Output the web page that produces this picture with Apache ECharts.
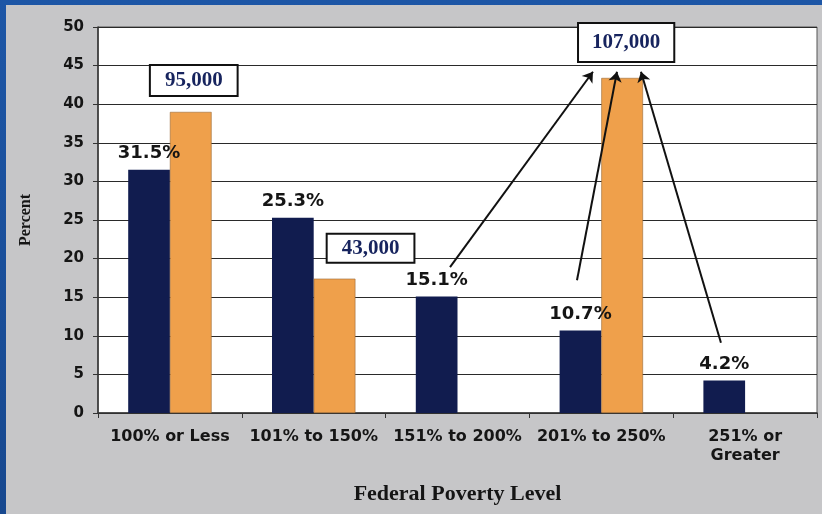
<!DOCTYPE html>
<html>
<head>
<meta charset="utf-8">
<script src="https://cdn.jsdelivr.net/npm/echarts@6/dist/echarts.min.js"></script>
<style>
  html, body { margin: 0; padding: 0; }
  body {
    width: 822px; height: 514px; overflow: hidden; position: relative;
    background: linear-gradient(180deg, #1d56a6 0%, #17488f 100%);
  }
  #chart {
    position: absolute; left: 6px; top: 5px; width: 816px; height: 509px;
    background: #c6c6c8;
  }
</style>
</head>
<body>
<div id="chart"></div>
<script>
// Federal poverty level bands
const categories = ['100% or Less', '101% to 150%', '151% to 200%', '201% to 250%', '251% or\nGreater'];
// Share of population (percent) per band
const percentValues = [31.5, 25.3, 15.1, 10.7, 4.2];
// Share of uninsured/eligible group (percent) per band
const groupValues = [39.0, 17.4, null, 43.4, null];
// Head counts shown in the boxed callouts above the orange bars
const calloutCounts = ['95,000', '43,000', null, '107,000', null];
// Pointer arrows [x, y] in band units (0-5) and percent: tail then head
const pointerTails = [[2.448, 18.9], [3.331, 17.2], [4.332, 9.1]];
const pointerHeads = [[3.442, 44.2], [3.609, 44.2], [3.776, 44.2]];
// Value axis ticks
const yMin = 0, yMax = 50, yStep = 5;

const SANS = 'DejaVu Sans';
const SERIF = 'Liberation Serif';

// per-callout box tweaks
const calloutStyle = [
  { offset: [3, 0], padding: [4, 14] },
  { offset: [36, 0], padding: [3, 14] },
  null,
  { offset: [4, 0], padding: [8, 13] },
  null
];

const groupData = groupValues.map((v, i) => {
  if (v == null) return null;
  const st = calloutStyle[i] || { offset: [0, 0], padding: [4, 14] };
  return {
    value: v,
    label: {
      show: true,
      position: 'top',
      distance: 17,
      offset: st.offset,
      padding: st.padding,
      formatter: calloutCounts[i],
      fontFamily: SERIF,
      fontWeight: 'bold',
      fontSize: 21,
      color: '#17245e',
      backgroundColor: '#ffffff',
      borderColor: '#111111',
      borderWidth: 2
    }
  };
});

const chart = echarts.init(document.getElementById('chart'), null, { renderer: 'canvas' });

chart.setOption({
  animation: false,
  backgroundColor: '#c6c6c8',
  grid: {
    left: 92, right: 5, top: 22, bottom: 101,
    show: true, backgroundColor: '#ffffff', borderColor: '#555555', borderWidth: 1
  },
  xAxis: [
    {
      type: 'category',
      data: categories,
      axisLine: { show: true, lineStyle: { color: '#333333', width: 1.5 } },
      axisTick: { show: true, length: 5, lineStyle: { color: '#333333' } },
      axisLabel: {
        interval: 0, margin: 14,
        fontFamily: SANS, fontWeight: 'bold', fontSize: 16, lineHeight: 19, color: '#151515'
      },
      name: 'Federal Poverty Level',
      nameLocation: 'middle',
      nameGap: 70,
      nameTextStyle: { fontFamily: SERIF, fontWeight: 'bold', fontSize: 22, color: '#151515' }
    },
    {
      type: 'value', min: 0, max: 5, show: false
    }
  ],
  yAxis: {
    type: 'value',
    min: yMin, max: yMax, interval: yStep,
    axisLine: { show: true, lineStyle: { color: '#333333', width: 1.5 } },
    axisTick: { show: true, length: 5, lineStyle: { color: '#333333' } },
    axisLabel: {
      margin: 14, fontFamily: SANS, fontWeight: 'bold', fontSize: 15, color: '#151515'
    },
    splitLine: { show: true, lineStyle: { color: '#2a2a2a', width: 1.2 } },
    name: 'Percent',
    nameLocation: 'middle',
    nameRotate: 90,
    nameGap: 64,
    nameTextStyle: { fontFamily: SERIF, fontWeight: 'bold', fontSize: 16, color: '#151515' }
  },
  series: [
    {
      name: 'Percent of population',
      type: 'bar',
      xAxisIndex: 0,
      data: percentValues,
      barGap: '0%',
      barCategoryGap: '42%',
      itemStyle: { color: '#111c4f' },
      label: {
        show: true, position: 'top', distance: 7,
        formatter: (p) => p.value + '%',
        fontFamily: SANS, fontWeight: 'bold', fontSize: 18, color: '#151515'
      },
      z: 2
    },
    {
      name: 'Percent of group',
      type: 'bar',
      xAxisIndex: 0,
      data: groupData,
      barGap: '0%',
      barCategoryGap: '42%',
      itemStyle: { color: '#efa04b', borderColor: '#9a6a35', borderWidth: 0.6 },
      z: 2
    },
    {
      name: 'Pointers',
      type: 'lines',
      coordinateSystem: 'cartesian2d',
      xAxisIndex: 1,
      yAxisIndex: 0,
      symbol: ['none', 'arrow'],
      symbolSize: 10,
      lineStyle: { color: '#111111', width: 2, opacity: 1, curveness: 0 },
      data: pointerTails.map((t, i) => ({ coords: [t, pointerHeads[i]] })),
      z: 5
    }
  ]
});
</script>
</body>
</html>
